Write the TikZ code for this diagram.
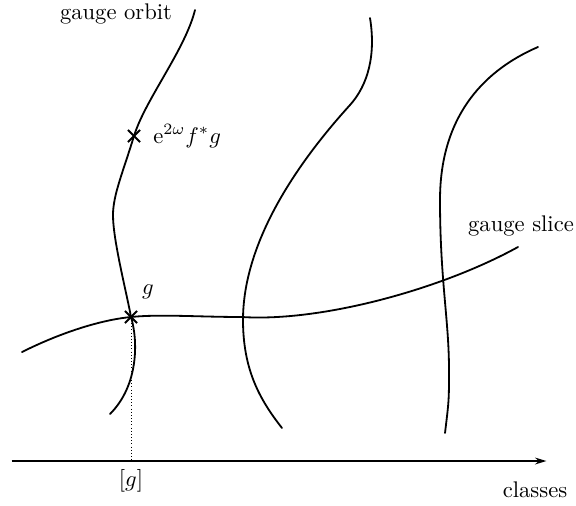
\documentclass[tikz,border=0pt]{standalone}
\usepackage{amsmath}
\usetikzlibrary{arrows.meta, shapes.misc}
\tikzset{
  fibre/.style={thick, line cap=round},
  markpt/.style={cross out, draw, thick, minimum size=4.6pt, inner sep=0pt},
  lbl/.style={inner sep=0pt},
}
\begin{document}
\begin{tikzpicture}[x=0.442pt, y=-0.442pt, >=Stealth]
\useasboundingbox (0,0) rectangle (576,505);

% marked points on the orbit
\node[markpt] (pw) at (134,136) {};
\node[markpt] (pg) at (131,317) {};

% gauge orbit through both points
\draw[fibre] (195,10) .. controls (185,50) and (145,100) .. (pw.center)
  .. controls (123,172) and (113,195) .. (113,215)
  .. controls (113,240) and (126,290) .. (pg.center)
  .. controls (138,340) and (139,385) .. (110,414);

% other orbits
\draw[fibre] (370,18) .. controls (376,55) and (368,85) .. (350,105)
  .. controls (300,160) and (243,240) .. (243,320)
  .. controls (243,370) and (260,400) .. (282,428);
\draw[fibre] (538,47) .. controls (480,72) and (440,120) .. (440,200)
  .. controls (440,280) and (449,320) .. (449,370)
  .. controls (449,400) .. (445,433);

% gauge slice
\draw[fibre] (22,352) .. controls (60,333) and (100,320) .. (pg.center)
  .. controls (160,314) and (200,317) .. (242,317)
  .. controls (320,322) and (440,290) .. (518,247);

% classes axis
\node[lbl] (ax0) at (10,461) {};
\node[lbl] (ax1) at (548,461) {};
\coordinate (gfoot) at (pg |- ax0);
\draw[thick, -{Stealth[length=5pt, width=3pt]}] (ax0) -- (ax1);
\draw[densely dotted, thin] (pg) -- (gfoot);

% labels
\node (orbitlbl) at (116,14) {gauge orbit};
\node[right=5pt] (wlbl) at (pw) {$\mathrm{e}^{2\omega} f^{*} g$};
\node (glbl) at (148,292) {$g$};
\node (slicelbl) at (521,226) {gauge slice};
\node (cllbl) at (131,481) {$[g]$};
\node (classlbl) at (535,490) {classes};

\end{tikzpicture}
\end{document}
